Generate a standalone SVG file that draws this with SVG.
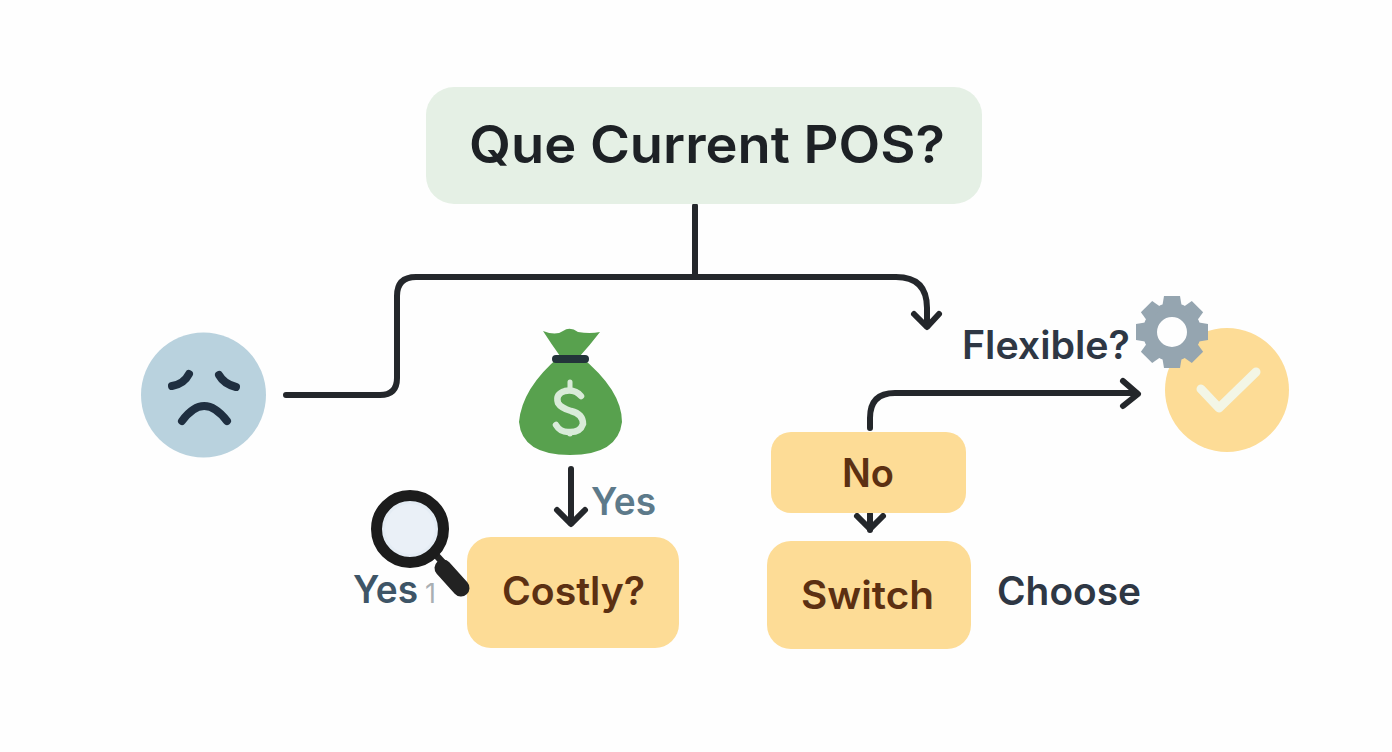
<svg xmlns="http://www.w3.org/2000/svg" width="1392" height="752" viewBox="0 0 1392 752">
<defs>
<path id="tooth" fill="#95a5b0" d="M-10 -24L-8 -36H8L10 -24Z"/>
</defs>
<style>
text{font-family:Inter,"Liberation Sans",sans-serif;font-weight:600}
.c{fill:none;stroke:#24272b;stroke-width:6;stroke-linecap:round;stroke-linejoin:round}
.box{fill:#fddc96}
.br{fill:#5c3012;font-size:39px}
.eye{fill:none;stroke:#1f2f40;stroke-width:8;stroke-linecap:round}
</style>
<rect width="1392" height="752" fill="#fefefe"/>
<g id="connectors">
<path class="c" d="M695 206V277"/>
<path class="c" d="M286 395H380Q397 395 397 378V296Q397 277 416 277H896Q927 277 927 308V326"/>
<path class="c" d="M914 314L927 327L939 314"/>
<path class="c" d="M870 428V418Q870 393 895 393H1136"/>
<path class="c" d="M1123 381L1138 394L1123 406"/>
<path class="c" d="M571 469V523"/>
<path class="c" d="M557 510L571 524L585 510"/>
<path class="c" d="M870 514V530"/>
<path class="c" d="M857 516L870 529L883 516"/>
</g>
<g id="node-question">
<rect x="426" y="87" width="556" height="117" rx="28" fill="#e5f0e5"/>
<text x="469" y="163" font-size="52" fill="#1d2125" textLength="476" lengthAdjust="spacingAndGlyphs">Que Current POS?</text>
</g>
<g id="node-sad">
<circle cx="203.500" cy="395" r="62.500" fill="#b9d2de"/>
<path class="eye" d="M172 386Q184 384 189 374"/>
<path class="eye" d="M219 375Q224 384 236 387"/>
<path class="eye" d="M182 421Q204 391 227 421"/>
</g>
<g id="node-money">
<path d="M543 331Q556 336 563 331Q570 326 578 332Q590 334 600 332Q590 345 580 356Q622 390 622 422Q618 455 570 455Q522 455 519 422Q522 388 560 356Q552 345 543 331Z" fill="#58a14e"/>
<rect x="552" y="355" width="37" height="8" rx="4" fill="#23343a"/>
<path d="M581 396Q575 389 565 391Q555 394 558 403Q561 408 571 411Q583 414 583 424Q580 433 568 432Q560 432 556 425" fill="none" stroke="#d9ebd9" stroke-width="6.500" stroke-linecap="round"/>
<path d="M570 382V390M570 432V434" fill="none" stroke="#d9ebd9" stroke-width="5" stroke-linecap="round"/>
</g>
<g id="label-yes-right">
<text x="591" y="515" font-size="38" fill="#5d7a8a" textLength="65" lengthAdjust="spacingAndGlyphs">Yes</text>
</g>
<g id="label-yes-left">
<text x="353" y="603" font-size="38" fill="#3e5567" textLength="65" lengthAdjust="spacingAndGlyphs">Yes</text>
<text x="425" y="603" font-size="27" style="font-weight:400" fill="#a9afb3">1</text>
</g>
<g id="node-costly">
<rect class="box" x="467" y="537" width="212" height="111" rx="24"/>
<text class="br" x="502" y="605" textLength="143" lengthAdjust="spacingAndGlyphs">Costly?</text>
</g>
<g id="node-magnifier">
<path d="M436 555L446 566" fill="none" stroke="#222" stroke-width="7"/>
<path d="M443 568L461 588" fill="none" stroke="#222" stroke-width="17" stroke-linecap="round"/>
<circle cx="410" cy="529" r="33.500" fill="#e4ecf4" stroke="#1c1c1c" stroke-width="11"/>
<circle cx="410" cy="529" r="25" fill="#eaf0f7"/>
</g>
<g id="node-no">
<rect class="box" x="771" y="432" width="195" height="81" rx="20"/>
<text class="br" x="842" y="487" textLength="52" lengthAdjust="spacingAndGlyphs">No</text>
</g>
<g id="node-switch">
<rect class="box" x="767" y="541" width="204" height="108" rx="24"/>
<text class="br" x="801" y="609" textLength="133" lengthAdjust="spacingAndGlyphs">Switch</text>
</g>
<g id="label-choose">
<text x="997" y="605" font-size="39" fill="#2e3744" textLength="144" lengthAdjust="spacingAndGlyphs">Choose</text>
</g>
<g id="label-flexible">
<text x="962" y="359" font-size="39" fill="#2e3744" textLength="168" lengthAdjust="spacingAndGlyphs">Flexible?</text>
</g>
<g id="node-check">
<circle cx="1227" cy="390" r="62" fill="#fddc96"/>
<path d="M1201 389L1219 408L1256 372" fill="none" stroke="#f3f6e6" stroke-width="9" stroke-linecap="round" stroke-linejoin="round"/>
</g>
<g id="node-gear" transform="translate(1172 332)">
<circle r="22" fill="#fefefe" stroke="#95a5b0" stroke-width="14"/>
<use href="#tooth"/>
<use href="#tooth" transform="rotate(45)"/>
<use href="#tooth" transform="rotate(90)"/>
<use href="#tooth" transform="rotate(135)"/>
<use href="#tooth" transform="rotate(180)"/>
<use href="#tooth" transform="rotate(225)"/>
<use href="#tooth" transform="rotate(270)"/>
<use href="#tooth" transform="rotate(315)"/>
</g>
</svg>
